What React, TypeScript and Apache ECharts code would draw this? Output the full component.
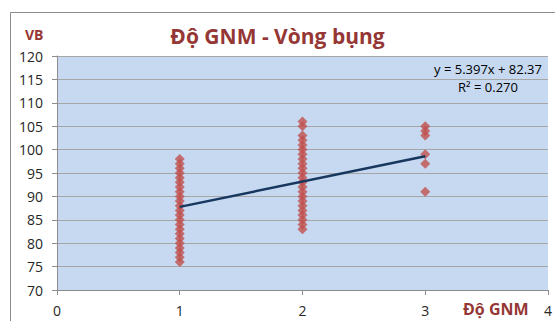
import React, { useEffect, useRef } from "react";
import * as echarts from "echarts";

const titleText = "Độ GNM - Vòng bụng";
const yAxisName = "VB";
const xAxisName = "Độ GNM";

const xMin = 0;
const xMax = 4;
const yMin = 70;
const yMax = 120;
const yStep = 5;

// Vòng bụng (VB) values for each Độ GNM level
const vbAt1 = [76, 77, 78, 79, 80, 81, 82, 83, 84, 85, 86, 87, 88, 89, 90, 91, 92, 93, 94, 95, 96, 97, 98];
const vbAt2 = [83, 84, 85, 86, 87, 88, 89, 90, 91, 92, 93, 94, 95, 96, 97, 98, 99, 100, 101, 102, 103, 105, 106];
const vbAt3 = [91, 97, 99, 103, 104, 105];

// Linear trendline as reported on the chart
const slope = 5.397;
const intercept = 82.37;
const rSquared = 0.27;
const trendFrom = 1;
const trendTo = 3;

export default function App() {
  const ref = useRef<HTMLDivElement>(null);

  useEffect(() => {
    if (!ref.current) return;
    const chart = echarts.init(ref.current, null, { renderer: "svg" });

    const points: number[][] = [
      ...vbAt1.map((v) => [1, v]),
      ...vbAt2.map((v) => [2, v]),
      ...vbAt3.map((v) => [3, v]),
    ];
    const trend = [
      [trendFrom, slope * trendFrom + intercept],
      [trendTo, slope * trendTo + intercept],
    ];

    const font = "'Open Sans', 'Liberation Sans', sans-serif";
    const red = "#953735";

    chart.setOption({
      animation: false,
      backgroundColor: "#ffffff",
      title: {
        text: titleText,
        left: "center",
        top: 20,
        textStyle: { color: red, fontSize: 21, fontWeight: "bold", fontFamily: font },
      },
      grid: {
        left: 57,
        top: 56,
        width: 496,
        height: 234,
        show: true,
        backgroundColor: "#C6D9F1",
        borderWidth: 0,
      },
      xAxis: {
        type: "value",
        min: xMin,
        max: xMax,
        interval: 1,
        axisLine: { show: true, lineStyle: { color: "#8C8C8C", width: 1 } },
        axisTick: { show: true, length: 5, lineStyle: { color: "#8C8C8C" } },
        splitLine: { show: false },
        axisLabel: { color: "#262626", fontSize: 14, fontFamily: font, margin: 13 },
      },
      yAxis: {
        type: "value",
        min: yMin,
        max: yMax,
        interval: yStep,
        axisLine: { show: true, lineStyle: { color: "#8C8C8C", width: 1 } },
        axisTick: { show: true, length: 5, lineStyle: { color: "#8C8C8C" } },
        splitLine: { show: true, lineStyle: { color: "#A6A6A6", width: 1 } },
        axisLabel: { color: "#262626", fontSize: 14, fontFamily: font, margin: 14 },
      },
      graphic: [
        {
          type: "rect",
          left: 8,
          top: 10,
          shape: { width: 600, height: 400 },
          style: { fill: "none", stroke: "#8C8C8C", lineWidth: 1 },
          silent: true,
          z: 100,
        },
        {
          type: "text",
          left: 25,
          top: 27,
          style: { text: yAxisName, fill: red, fontSize: 14, fontWeight: "bold", fontFamily: font },
        },
        {
          type: "text",
          left: 463,
          top: 301,
          style: { text: xAxisName, fill: red, fontSize: 16, fontWeight: "bold", fontFamily: font },
        },
        {
          type: "text",
          x: 488,
          y: 62,
          style: {
            text: `y = ${slope}x + ${intercept}`,
            fill: "#000000",
            fontSize: 13,
            fontFamily: font,
            align: "center",
          },
          z: 50,
        },
        {
          type: "text",
          x: 488,
          y: 80,
          style: {
            text: `R² = ${rSquared.toFixed(3)}`,
            fill: "#000000",
            fontSize: 13,
            fontFamily: font,
            align: "center",
          },
          z: 50,
        },
      ],
      series: [
        {
          type: "scatter",
          data: points,
          symbol: "diamond",
          symbolSize: 10,
          itemStyle: { color: "#C0504D" },
          z: 3,
        },
        {
          type: "line",
          data: trend,
          showSymbol: false,
          symbol: "none",
          lineStyle: { color: "#17375E", width: 2.5 },
          z: 4,
        },
      ],
    });

    return () => chart.dispose();
  }, []);

  return (
    <div
      ref={ref}
      style={{ position: "fixed", left: 0, top: 0, width: 555, height: 321 }}
    />
  );
}
